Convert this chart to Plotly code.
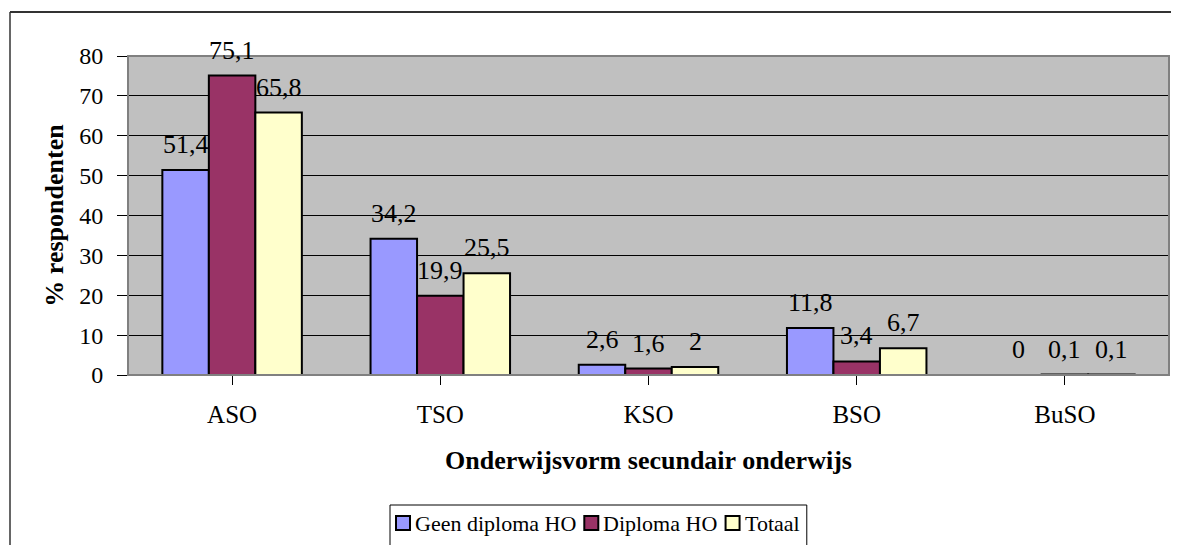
import plotly.graph_objects as go

categories = ["ASO", "TSO", "KSO", "BSO", "BuSO"]
geen_diploma = [51.4, 34.2, 2.6, 11.8, 0]
diploma = [75.1, 19.9, 1.6, 3.4, 0.1]
totaal = [65.8, 25.5, 2, 6.7, 0.1]
series_names = ["Geen diploma HO", "Diploma HO", "Totaal"]
colors = ["#9999FF", "#993366", "#FFFFCC"]
y_ticks = [0, 10, 20, 30, 40, 50, 60, 70, 80]

FONT = "Liberation Serif, Times New Roman, serif"
FS_TICK = 24
FS_CAT = 25
FS_LABEL = 26
FS_TITLE = 26
FS_LEG = 22

# the page body has an 8px margin: figure coords = screen coords - 8
OFF = 8
W, H = 1179 - OFF, 545 - OFF
L, R, T, B = 128 - OFF, 10, 56 - OFF, 170
pw, ph = W - L - R, H - T - B


def fmt(v):
    return f"{v:g}".replace(".", ",")


def sx(p):  # screen x -> paper
    return (p - OFF - L) / pw


def sy(p):  # screen y -> paper
    return (H - B - (p - OFF)) / ph


# approximate Times advance widths (per em) for legend layout
TW = {"G": .722, "e": .444, "n": .5, " ": .25, "d": .5, "i": .278, "p": .5,
      "l": .278, "o": .5, "m": .778, "a": .444, "H": .722, "O": .722,
      "D": .722, "T": .611, "t": .278}


def text_w(s, size):
    return sum(TW.get(c, .5) for c in s) * size


fig = go.Figure()
series = [geen_diploma, diploma, totaal]
for name, vals, col in zip(series_names, series, colors):
    fig.add_trace(go.Bar(
        x=list(range(len(categories))), y=vals, name=name,
        marker=dict(color=col, line=dict(color="black", width=2)),
        showlegend=False,
    ))

bargap = 0.33
bw = (1 - bargap) / 3
annotations = []
for si, vals in enumerate(series):
    off = (si - 1) * bw
    for ci, v in enumerate(vals):
        annotations.append(dict(
            x=ci + off, y=v, xref="x", yref="y", text=fmt(v),
            showarrow=False, yanchor="bottom", yshift=9,
            font=dict(family=FONT, size=FS_LABEL, color="black"),
        ))

shapes = [
    # plot area border
    dict(type="rect", xref="paper", yref="paper", x0=0, x1=1, y0=0, y1=1,
         line=dict(color="#808080", width=2), layer="above"),
    # outer chart frame
    dict(type="line", xref="paper", yref="paper",
         x0=sx(10), x1=sx(1200), y0=sy(12), y1=sy(12),
         line=dict(color="#333333", width=2)),
    dict(type="line", xref="paper", yref="paper",
         x0=sx(10), x1=sx(10), y0=sy(12), y1=sy(580),
         line=dict(color="#333333", width=1.5)),
]

# legend (drawn manually, Excel style)
leg_left, leg_top, leg_cy = 390, 505, 523
sq = 14
x = leg_left + 6
for name, col in zip(series_names, colors):
    shapes.append(dict(type="rect", xref="paper", yref="paper",
                       x0=sx(x), x1=sx(x + sq), y0=sy(leg_cy - sq / 2), y1=sy(leg_cy + sq / 2),
                       fillcolor=col, line=dict(color="black", width=2)))
    tx = x + sq + 3
    annotations.append(dict(x=sx(tx), y=sy(leg_cy), xref="paper", yref="paper",
                            text=name, showarrow=False, xanchor="left", yanchor="middle",
                            font=dict(family=FONT, size=FS_LEG, color="black")))
    x = tx + text_w(name, FS_LEG) + 10
leg_right = x - 2
shapes.append(dict(type="rect", xref="paper", yref="paper",
                   x0=sx(leg_left), x1=sx(leg_right), y0=sy(leg_top), y1=sy(600),
                   line=dict(color="black", width=1), fillcolor="rgba(0,0,0,0)"))

fig.update_layout(
    width=W, height=H,
    margin=dict(l=L, r=R, t=T, b=B, pad=0, autoexpand=False),
    paper_bgcolor="white", plot_bgcolor="#C0C0C0",
    barmode="group", bargap=bargap, bargroupgap=0,
    font=dict(family=FONT, size=FS_TICK, color="black"),
    xaxis=dict(
        tickmode="array", tickvals=list(range(len(categories))), ticktext=categories,
        range=[-0.5, len(categories) - 0.5],
        ticks="outside", tickson="boundaries", ticklen=9, tickcolor="black",
        ticklabelstandoff=8,
        showline=True, linecolor="black", linewidth=1, showgrid=False,
        title=dict(text="<b>Onderwijsvorm secundair onderwijs</b>", standoff=23,
                   font=dict(family=FONT, size=FS_TITLE)),
        tickfont=dict(family=FONT, size=FS_CAT),
        automargin=False,
    ),
    yaxis=dict(
        range=[0, 80], tickvals=y_ticks, ticks="outside", ticklen=10, tickcolor="black",
        ticklabelstandoff=9,
        showline=True, linecolor="black", linewidth=1,
        showgrid=True, gridcolor="black", gridwidth=1, zeroline=False,
        title=dict(text="<b>% respondenten</b>", standoff=8,
                   font=dict(family=FONT, size=FS_TITLE)),
        tickfont=dict(family=FONT, size=FS_TICK),
        automargin=False,
    ),
    annotations=annotations, shapes=shapes,
    showlegend=False,
)

fig.write_html("out.html")
